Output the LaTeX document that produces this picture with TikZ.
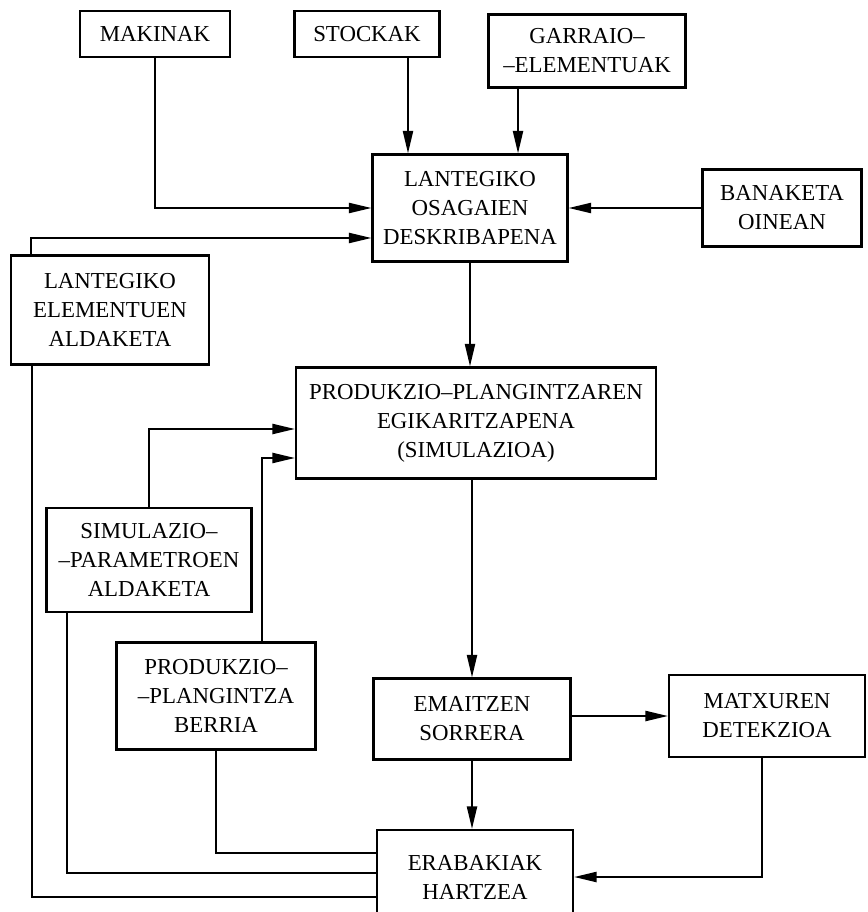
\documentclass[tikz,border=0pt]{standalone}
\usepackage{fontspec}
\setmainfont{Liberation Serif}
\usetikzlibrary{arrows.meta}

\tikzset{
  box/.style={draw, line width=1.2pt, align=center, inner sep=2pt,
    font=\fontsize{13}{16.5}\selectfont},
  arr/.style={line width=1.2pt, -{Triangle[length=4.5mm,width=2mm]}},
  line/.style={line width=1.2pt}
}

\begin{document}
\begin{tikzpicture}[x=0.02cm, y=-0.02cm]
  \useasboundingbox (0,0) rectangle (867,912);

  % sarrerak
  \node[box, minimum width=3cm, minimum height=0.92cm] (makinak) at (155,34) {MAKINAK};
  \node[box, minimum width=2.9cm, minimum height=0.92cm] (stockak) at (367,34) {STOCKAK};
  \node[box, minimum width=3.94cm, minimum height=1.46cm] (garraio) at (587,51) {GARRAIO--\\--ELEMENTUAK};
  \node[box, minimum width=3.9cm, minimum height=2.14cm] (osagaien) at (470,208) {LANTEGIKO\\OSAGAIEN\\DESKRIBAPENA};
  \node[box, minimum width=3.18cm, minimum height=1.54cm] (banaketa) at (782,208) {BANAKETA\\OINEAN};
  \node[box, minimum width=3.96cm, minimum height=2.18cm] (aldaketa) at (110,310) {LANTEGIKO\\ELEMENTUEN\\ALDAKETA};

  % simulazioa
  \node[box, minimum width=7.2cm, minimum height=2.22cm] (simulazioa) at (476,423) {PRODUKZIO--PLANGINTZAREN\\EGIKARITZAPENA\\(SIMULAZIOA)};
  \node[box, minimum width=4.1cm, minimum height=2.08cm] (parametroak) at (149,560) {SIMULAZIO--\\--PARAMETROEN\\ALDAKETA};
  \node[box, minimum width=3.98cm, minimum height=2.14cm] (berria) at (216,696) {PRODUKZIO--\\--PLANGINTZA\\BERRIA};

  % emaitzak
  \node[box, minimum width=3.94cm, minimum height=1.62cm] (emaitzak) at (472,719) {EMAITZEN\\SORRERA};
  \node[box, minimum width=3.92cm, minimum height=1.64cm] (matxurak) at (767,716) {MATXUREN\\DETEKZIOA};
  \node[box, minimum width=3.92cm, minimum height=1.88cm] (erabakiak) at (475,877) {ERABAKIAK\\HARTZEA};

  % goiko geziak
  \draw[arr] (makinak.south) |- (osagaien.west);
  \coordinate (st) at ([xshift=0.82cm]stockak.south);
  \draw[arr] (st) -- (st |- osagaien.north);
  \coordinate (ga) at ([xshift=-1.38cm]garraio.south);
  \draw[arr] (ga) -- (ga |- osagaien.north);
  \draw[arr] (banaketa.west) -- (banaketa.west -| osagaien.east);
  \draw[arr] ([xshift=0.42cm]aldaketa.north west) |- ([yshift=-0.6cm]osagaien.west);
  \draw[arr] (osagaien.south) -- (osagaien.south |- simulazioa.north);

  % simulazioaren sarrerak
  \draw[arr] (parametroak.north) |- ([yshift=-0.12cm]simulazioa.west);
  \draw[arr] ([xshift=0.92cm]berria.north) |- ([yshift=-0.7cm]simulazioa.west);
  \draw[arr] (emaitzak.north |- simulazioa.south) -- (emaitzak.north);

  % behekoak
  \draw[arr] (matxurak.west -| emaitzak.east) -- (matxurak.west);
  \draw[arr] (emaitzak.south) -- (emaitzak.south |- erabakiak.north);
  \draw[arr] ([xshift=-0.1cm]matxurak.south) |- (erabakiak.east);
  \draw[line] (berria.south) |- ([yshift=0.48cm]erabakiak.west);
  \draw[line] ([xshift=-1.64cm]parametroak.south) |- ([yshift=0.08cm]erabakiak.west);
  \draw[line] ([xshift=-1.56cm]aldaketa.south) |- ([yshift=-0.4cm]erabakiak.west);
\end{tikzpicture}
\end{document}
